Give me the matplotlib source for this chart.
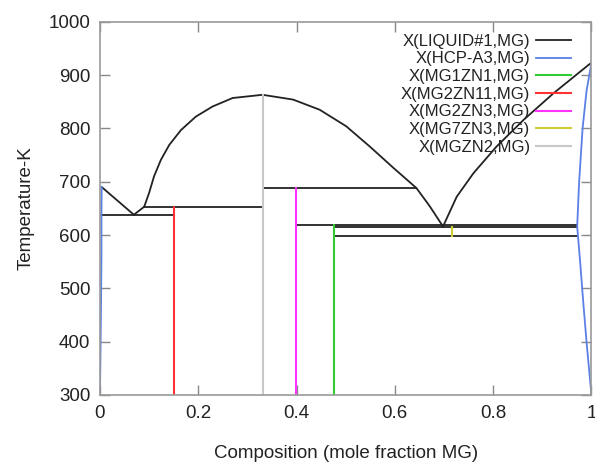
import matplotlib
matplotlib.use("Agg")
import matplotlib.pyplot as plt

plt.rcParams['font.family'] = ['Liberation Sans', 'DejaVu Sans']

# liquidus segments (x = mole fraction MG, T in K)
liq_left_x = [0.0035, 0.035, 0.069]
liq_left_t = [690, 665, 638]
liq_dome_x = [0.069, 0.090, 0.100, 0.110, 0.124, 0.141, 0.165, 0.195, 0.229, 0.270, 0.331,
              0.393, 0.447, 0.501, 0.549, 0.597, 0.644, 0.671, 0.698]
liq_dome_t = [638, 653, 679, 710, 741, 769, 797, 822, 841, 857, 863,
              854, 835, 804, 766, 726, 688, 654, 616]
liq_right_x = [0.698, 0.726, 0.760, 0.807, 0.862, 0.923, 0.994, 1.0]
liq_right_t = [616, 672, 716, 766, 816, 866, 919, 923]

# invariant (horizontal) lines: x start, x end, T
inv_x0 = [0.0, 0.09, 0.331, 0.398, 0.477, 0.477]
inv_x1 = [0.151, 0.331, 0.644, 0.971, 0.971, 0.971]
inv_t = [637, 653, 689, 619, 615, 599]

# hcp solvus
hcp_right_x = [1.0, 0.99, 0.982, 0.975, 0.971, 0.977, 0.983, 0.99, 1.0]
hcp_right_t = [923, 870, 800, 700, 616, 550, 478, 400, 300]
hcp_left_x = [0.0035, 0.003, 0.003, 0.002, 0.0]
hcp_left_t = [690, 637, 560, 450, 300]

# compounds: composition, lower / upper temperature
cmp_names = ["X(MG1ZN1,MG)", "X(MG2ZN11,MG)", "X(MG2ZN3,MG)", "X(MG7ZN3,MG)", "X(MGZN2,MG)"]
cmp_x = [0.477, 0.151, 0.398, 0.716, 0.331]
cmp_tlow = [300, 300, 300, 599, 300]
cmp_thigh = [619, 653, 689, 615, 863]
cmp_colors = ["#33cc33", "#ff3333", "#ff33ff", "#cccc33", "#c8c8c8"]

black = "#222222"
blue = "#5b80e6"

fig = plt.figure(figsize=(5.95, 4.63), dpi=100)
ax = fig.add_axes([0.168, 0.147, 0.826, 0.806])

ax.plot(liq_left_x, liq_left_t, color=black, lw=1.3, label="X(LIQUID#1,MG)")
ax.plot(liq_dome_x, liq_dome_t, color=black, lw=1.3)
ax.plot(liq_right_x, liq_right_t, color=black, lw=1.3)
for x0, x1, t in zip(inv_x0, inv_x1, inv_t):
    ax.plot([x0, x1], [t, t], color=black, lw=1.3)

ax.plot(hcp_right_x, hcp_right_t, color=blue, lw=1.3, label="X(HCP-A3,MG)")
ax.plot(hcp_left_x, hcp_left_t, color=blue, lw=1.3)

for name, x, lo, hi, c in zip(cmp_names, cmp_x, cmp_tlow, cmp_thigh, cmp_colors):
    ax.plot([x, x], [lo, hi], color=c, lw=1.5, label=name)

ax.set_xlim(0, 1)
ax.set_ylim(300, 1000)
ax.set_xticks([0, 0.2, 0.4, 0.6, 0.8, 1])
ax.set_xticklabels(["0", "0.2", "0.4", "0.6", "0.8", "1"])
ax.set_yticks(range(300, 1001, 100))
ax.tick_params(direction="in", length=7, width=1, color="#888888",
               top=True, right=True, labelsize=13.5, pad=7, labelcolor="#222222")
for s in ax.spines.values():
    s.set_color("#999999")
    s.set_linewidth(1.2)

ax.set_xlabel("Composition (mole fraction MG)", fontsize=13.5, color="#222222", labelpad=17)
ax.set_ylabel("Temperature-K", fontsize=13.5, color="#222222", labelpad=10)

leg = ax.legend(loc="upper right", bbox_to_anchor=(0.959, 0.968), frameon=False,
                markerfirst=False, fontsize=12, handlelength=2.1,
                labelspacing=0.16, borderpad=0, borderaxespad=0, handletextpad=0.36)
for t in leg.get_texts():
    t.set_color("#222222")

fig.savefig("out.png", dpi=100)
